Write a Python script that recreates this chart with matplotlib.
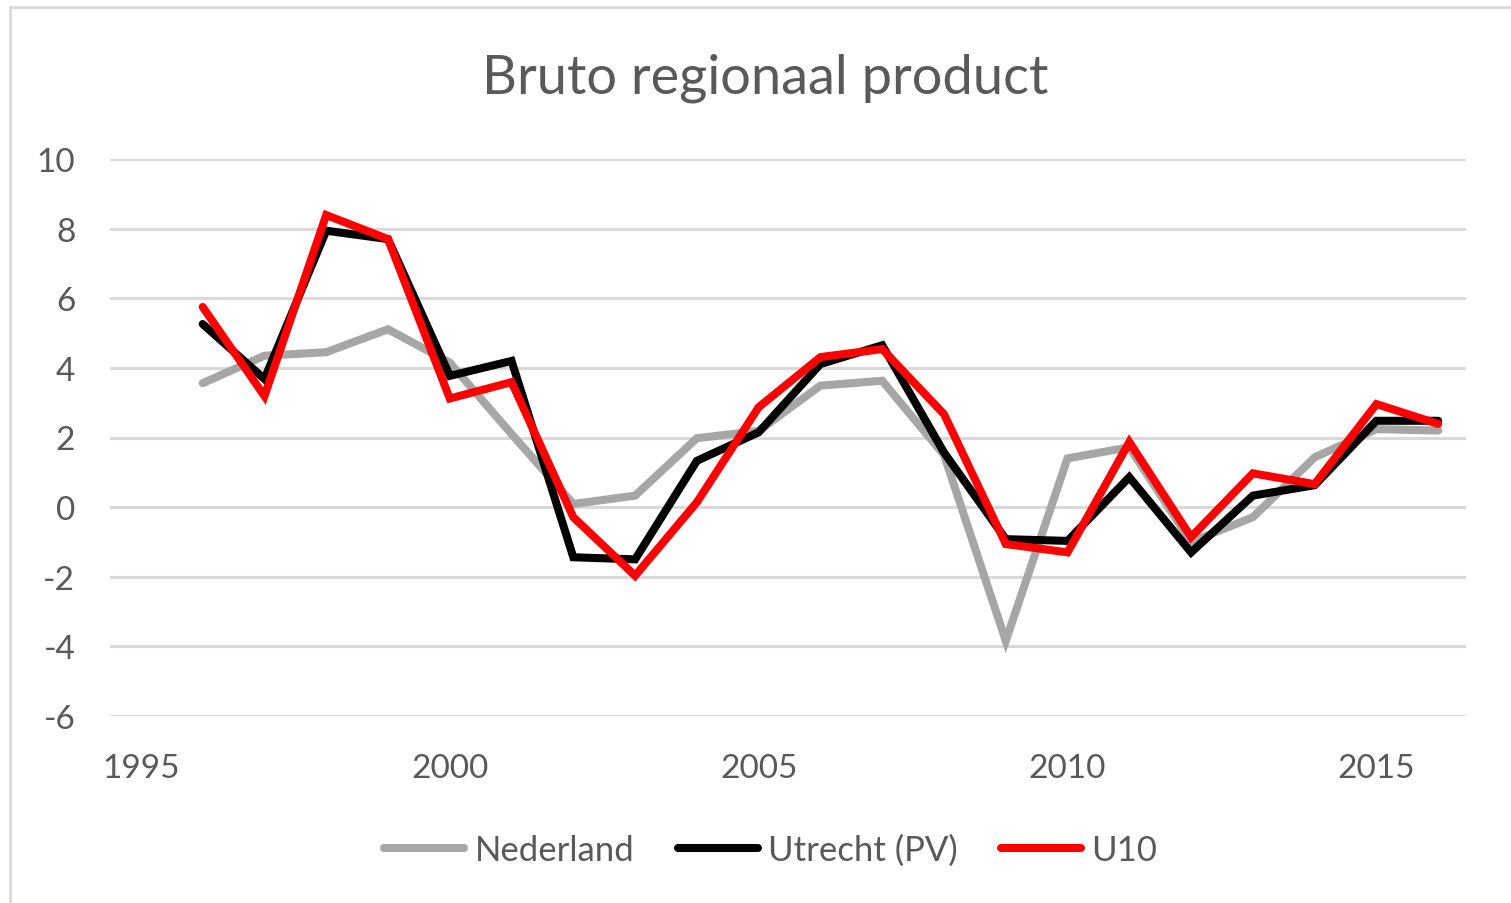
import matplotlib.pyplot as plt
from matplotlib.patches import Rectangle

years = list(range(1996, 2017))
nederland = [3.56, 4.35, 4.45, 5.11, 4.15, 2.1, 0.09, 0.33, 1.98, 2.19, 3.49, 3.63, 1.5,
             -3.84, 1.4, 1.72, -1.0, -0.29, 1.43, 2.24, 2.2]
utrecht = [5.26, 3.68, 7.94, 7.70, 3.77, 4.2, -1.44, -1.5, 1.33, 2.15, 4.11, 4.65, 1.57,
           -0.92, -0.97, 0.86, -1.3, 0.33, 0.63, 2.48, 2.48]
u10 = [5.75, 3.19, 8.39, 7.70, 3.12, 3.59, -0.29, -1.97, 0.14, 2.87, 4.31, 4.54, 2.67,
       -1.06, -1.3, 1.87, -0.86, 0.97, 0.66, 2.96, 2.39]
series_names = ['Nederland', 'Utrecht (PV)', 'U10']
series_colors = ['#a6a6a6', '#000000', '#ff0000']
yticks = list(range(-6, 11, 2))
xticks = [1995, 2000, 2005, 2010, 2015]

plt.rcParams['font.family'] = ['Lato', 'DejaVu Sans']
plt.rcParams['axes.unicode_minus'] = False
txt = '#595959'

fig = plt.figure(figsize=(15.11, 9.04), dpi=100)
ax = fig.add_axes([110 / 1511, 1 - 717 / 904, (1466 - 110) / 1511, (717 - 160) / 904])

for vals, name, col in zip([nederland, utrecht, u10], series_names, series_colors):
    ax.plot(years, vals, color=col, lw=5.8, label=name, solid_capstyle='round',
            solid_joinstyle='miter')

ax.set_ylim(-6, 10)
ax.set_xlim(1994.5, 2016.45)
ax.set_yticks(yticks)
ax.set_xticks(xticks)
ax.grid(axis='y', color='#d9d9d9', lw=2.2)
ax.set_axisbelow(True)
for s in ax.spines.values():
    s.set_visible(False)
ax.tick_params(length=0, labelsize=24, labelcolor=txt)
ax.tick_params(axis='y', pad=25)
ax.tick_params(axis='x', pad=27)

fig.text(765 / 1511, 1 - 78 / 904, 'Bruto regionaal product', ha='center', va='center',
         fontsize=39, color=txt)

leg = fig.legend(loc='center', bbox_to_anchor=(771 / 1511, 1 - 851 / 904), ncol=3,
                 frameon=False, fontsize=25, handlelength=2.3, handletextpad=0.3,
                 columnspacing=1.25)
for t in leg.get_texts():
    t.set_color(txt)

fig.patches.append(Rectangle((10 / 1511, -0.01), 1.02, 1 - 8 / 904 + 0.01,
                             transform=fig.transFigure, fill=False,
                             edgecolor='#d9d9d9', lw=2))

fig.savefig('out.png', dpi=100)
